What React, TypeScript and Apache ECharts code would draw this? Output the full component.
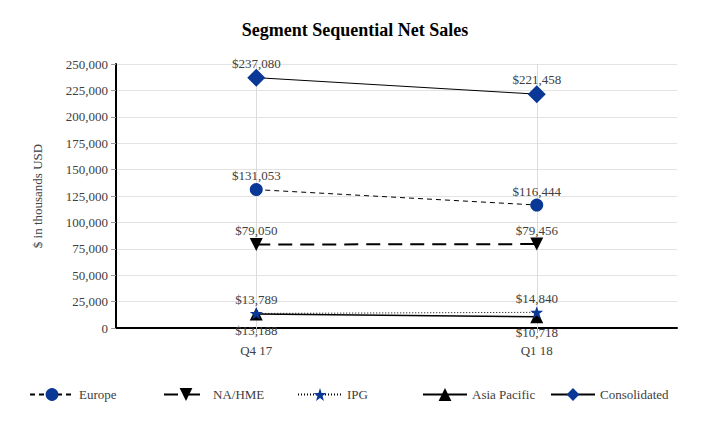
import React, { useEffect, useRef } from "react";
import * as echarts from "echarts";

const categories = ["Q4 17", "Q1 18"];
const europe = [131053, 116444];
const naHme = [79050, 79456];
const ipg = [13789, 14840];
const asiaPacific = [13188, 10718];
const consolidated = [237080, 221458];
const yTicks = { min: 0, max: 250000, interval: 25000 };

const BLUE = "#0a3896";
const FONT = "Liberation Serif";
const TXT = "#404040";
const STAR =
  "path://M0,-10 L2.35,-3.24 L9.51,-3.09 L3.8,1.24 L5.88,8.09 L0,4 L-5.88,8.09 L-3.8,1.24 L-9.51,-3.09 L-2.35,-3.24 Z";

const fmt = (v: number) => "$" + v.toLocaleString("en-US");

export default function App() {
  const ref = useRef<HTMLDivElement>(null);
  useEffect(() => {
    document.body.style.margin = "0";
    const chart = echarts.init(ref.current!, undefined, { renderer: "svg" });
    const label = (pos: string, distance: number) => ({
      show: true,
      position: pos,
      distance,
      formatter: (p: any) => fmt(p.value),
      color: TXT,
      fontFamily: FONT,
      fontSize: 13,
    });
    const legendAt = (name: string, left: number) => ({
      data: [name],
      left,
      top: 383,
      itemWidth: 44,
      itemHeight: 16,
      itemGap: 10,
      textStyle: { color: TXT, fontFamily: FONT, fontSize: 13 },
    });
    chart.setOption({
      animation: false,
      title: {
        text: "Segment Sequential Net Sales",
        left: "center",
        top: 16,
        textStyle: { fontFamily: FONT, fontSize: 18, fontWeight: "bold", color: "#000" },
      },
      grid: { left: 116, right: 33, top: 64, bottom: 102 },
      legend: [
        legendAt("Europe", 24),
        legendAt("NA/HME", 158),
        legendAt("IPG", 292),
        legendAt("Asia Pacific", 417),
        legendAt("Consolidated", 545),
      ],
      xAxis: {
        type: "category",
        data: categories,
        boundaryGap: true,
        axisLine: { lineStyle: { color: "#000", width: 2 } },
        axisTick: { show: true, alignWithLabel: true, length: 5, lineStyle: { color: "#aaa" } },
        axisLabel: { color: TXT, fontFamily: FONT, fontSize: 13, margin: 16 },
        splitLine: { show: false },
      },
      yAxis: {
        type: "value",
        min: yTicks.min,
        max: yTicks.max,
        interval: yTicks.interval,
        name: "$ in thousands USD",
        nameLocation: "middle",
        nameGap: 72,
        nameTextStyle: { color: TXT, fontFamily: FONT, fontSize: 13 },
        axisLine: { show: true, lineStyle: { color: "#000", width: 2 } },
        axisTick: { show: true, length: 5, lineStyle: { color: "#999" } },
        axisLabel: {
          color: TXT,
          fontFamily: FONT,
          fontSize: 13,
          margin: 8,
          formatter: (v: number) => v.toLocaleString("en-US"),
        },
        splitLine: { lineStyle: { color: "#e3e3e3", width: 1 } },
      },
      series: [
        {
          name: "Consolidated",
          type: "line",
          data: consolidated,
          symbol: "diamond",
          symbolSize: 18,
          itemStyle: { color: BLUE },
          lineStyle: { color: "#000", width: 1 },
          label: label("top", -1),
          z: 5,
          markLine: {
            silent: true,
            symbol: "none",
            label: { show: false },
            lineStyle: { color: "#dcdcdc", width: 1, type: "solid" },
            data: categories.map((c) => ({ xAxis: c })),
            z: 1,
          },
        },
        {
          name: "Europe",
          type: "line",
          data: europe,
          symbol: "circle",
          symbolSize: 13,
          itemStyle: { color: BLUE },
          lineStyle: { color: "#000", width: 1, type: [5, 4] },
          label: label("top", 1),
          z: 5,
        },
        {
          name: "NA/HME",
          type: "line",
          data: naHme,
          symbol: "triangle",
          symbolRotate: 180,
          symbolSize: 13,
          itemStyle: { color: "#000" },
          lineStyle: { color: "#000", width: 2, type: [14, 8] },
          label: label("top", 1),
          z: 5,
        },
        {
          name: "Asia Pacific",
          type: "line",
          data: asiaPacific,
          symbol: "triangle",
          symbolSize: 13,
          itemStyle: { color: "#000" },
          lineStyle: { color: "#000", width: 1.5 },
          label: label("bottom", 3),
          z: 5,
        },
        {
          name: "IPG",
          type: "line",
          data: ipg,
          symbol: STAR,
          symbolKeepAspect: true,
          symbolSize: 13,
          itemStyle: { color: BLUE },
          lineStyle: { color: "#000", width: 1, type: [1, 2] },
          label: label("top", 1),
          z: 6,
        },
      ],
    });
    return () => chart.dispose();
  }, []);
  return <div ref={ref} style={{ width: 710, height: 430 }} />;
}
